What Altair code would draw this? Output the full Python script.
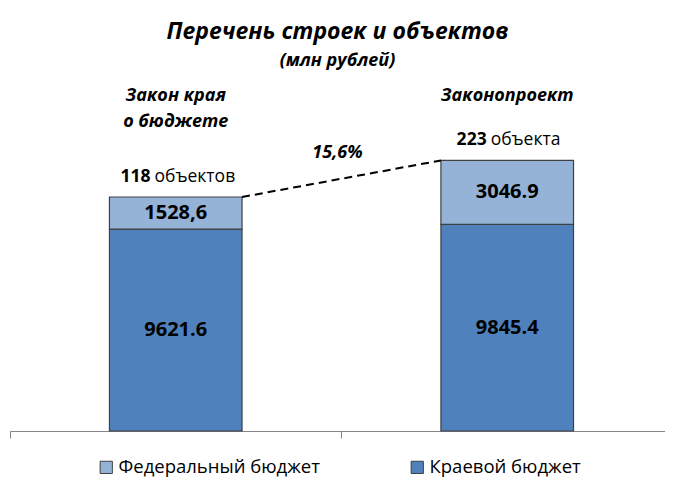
import altair as alt
import pandas as pd

# ---- data ----
categories = ["Закон края\nо бюджете", "Законопроект"]
series_names = ["Федеральный бюджет", "Краевой бюджет"]
kraevoy = [9621.6, 9845.4]
federal = [1528.6, 3046.9]
kraevoy_labels = ["9621.6", "9845.4"]
federal_labels = ["1528,6", "3046.9"]
object_counts = ["118", "223"]
object_words = ["объектов", "объекта"]
growth_label = "15,6%"
title_text = "Перечень строек и объектов"
subtitle_text = "(млн рублей)"

FONT = "Open Sans"
series_colors = ["#95B3D7", "#4F81BD"]
BAR_HALF = 0.2

rows = []
for i, c in enumerate(categories):
    rows.append(dict(idx=i, cat=c, series=series_names[1], value=kraevoy[i], label=kraevoy_labels[i], ord=0))
    rows.append(dict(idx=i, cat=c, series=series_names[0], value=federal[i], label=federal_labels[i], ord=1))
df = pd.DataFrame(rows)

totals = [k + f for k, f in zip(kraevoy, federal)]
tot = pd.DataFrame(dict(idx=list(range(len(categories))), cat=categories, total=totals,
                        num=object_counts, word=object_words))

# growth annotation at the middle of the connector line
x_left_end = 0 + 0.5 + BAR_HALF
x_right_end = 1 + 0.5 - BAR_HALF
grow = pd.DataFrame(dict(x=[(x_left_end + x_right_end) / 2], y=[(totals[0] + totals[1]) / 2], label=[growth_label]))

xs = alt.Scale(domain=[0, 1.976], nice=False, zero=False)
ys = alt.Scale(domain=[0, 16725], nice=False, zero=True)
x_axis = alt.Axis(values=[0, 1], labels=False, ticks=True, tickSize=7, grid=False,
                  domainColor="#868686", tickColor="#868686", domainWidth=1, tickWidth=1, title=None)


def X(field):
    return alt.X(field, scale=xs, axis=x_axis)


def Y(field):
    return alt.Y(field, scale=ys, axis=None)


base = alt.Chart(df).transform_stack(
    stack="value", groupby=["idx"], as_=["y0", "y1"],
    sort=[alt.SortField("ord", order="ascending")]
).transform_calculate(
    xa=f"datum.idx + 0.5 - {BAR_HALF}",
    xb=f"datum.idx + 0.5 + {BAR_HALF}",
    xc="datum.idx + 0.5",
    ym="(datum.y0 + datum.y1) / 2",
)

bars = base.mark_bar(stroke="#404040", strokeWidth=1.2).encode(
    x=X("xa:Q"),
    x2="xb:Q",
    y=Y("y0:Q"),
    y2="y1:Q",
    color=alt.Color("series:N",
                    scale=alt.Scale(domain=series_names, range=series_colors),
                    legend=alt.Legend(orient="none", legendX=87, legendY=378, direction="horizontal",
                                      title=None, symbolType="square", symbolSize=150,
                                      symbolStrokeColor="#404040", symbolStrokeWidth=1,
                                      labelFont=FONT, labelFontSize=18.5, labelColor="black",
                                      columnPadding=88, labelOffset=3, labelLimit=400)),
)

seg_text = base.mark_text(font=FONT, fontSize=20, fontWeight="bold", color="black", baseline="middle").encode(
    x=X("xc:Q"),
    y=Y("ym:Q"),
    text="label:N",
)

tbase = alt.Chart(tot).transform_calculate(
    xc="datum.idx + 0.5",
    xl=f"datum.idx == 0 ? datum.idx + 0.5 + {BAR_HALF} : datum.idx + 0.5 - {BAR_HALF}",
    xn="datum.idx + 0.5 + (length(datum.num) - length(datum.word)) * 0.014",
)

connector = tbase.mark_line(color="black", strokeDash=[8, 5], strokeWidth=2).encode(
    x=X("xl:Q"),
    y=Y("total:Q"),
)

count_num = tbase.mark_text(font=FONT, fontSize=17.5, fontWeight="bold", color="black",
                            align="right", baseline="alphabetic", dx=-2, dy=-15).encode(
    x=X("xn:Q"),
    y=Y("total:Q"),
    text="num:N",
)
count_word = tbase.mark_text(font=FONT, fontSize=17.5, color="black",
                             align="left", baseline="alphabetic", dx=2, dy=-15).encode(
    x=X("xn:Q"),
    y=Y("total:Q"),
    text="word:N",
)

headers = tbase.mark_text(font=FONT, fontSize=18, fontWeight="bold", fontStyle="italic", color="black",
                          align="center", baseline="alphabetic", lineBreak="\n", lineHeight=26).encode(
    x=X("xc:Q"),
    y=alt.value(21),
    text="cat:N",
)

growth = alt.Chart(grow).mark_text(font=FONT, fontSize=18, fontWeight="bold", fontStyle="italic",
                                   color="black", baseline="middle", dy=-26, dx=-4).encode(
    x=X("x:Q"),
    y=Y("y:Q"),
    text="label:N",
)

chart = alt.layer(bars, seg_text, connector, count_num, count_word, headers, growth).properties(
    width=655, height=351,
    padding={"left": 2, "top": 72, "right": 0, "bottom": 46},
    autosize=alt.AutoSizeParams(type="none"),
    title=alt.Title(title_text, subtitle=subtitle_text, font=FONT, fontSize=23, fontStyle="italic",
                    fontWeight="bold", color="black", subtitleFont=FONT, subtitleFontSize=18,
                    subtitleFontStyle="italic", subtitleFontWeight="bold", subtitleColor="black",
                    anchor="middle", offset=10, subtitlePadding=8),
).configure(background="white").configure_view(stroke=None)

chart.save("out.html", embed_options={"renderer": "svg", "actions": False})
